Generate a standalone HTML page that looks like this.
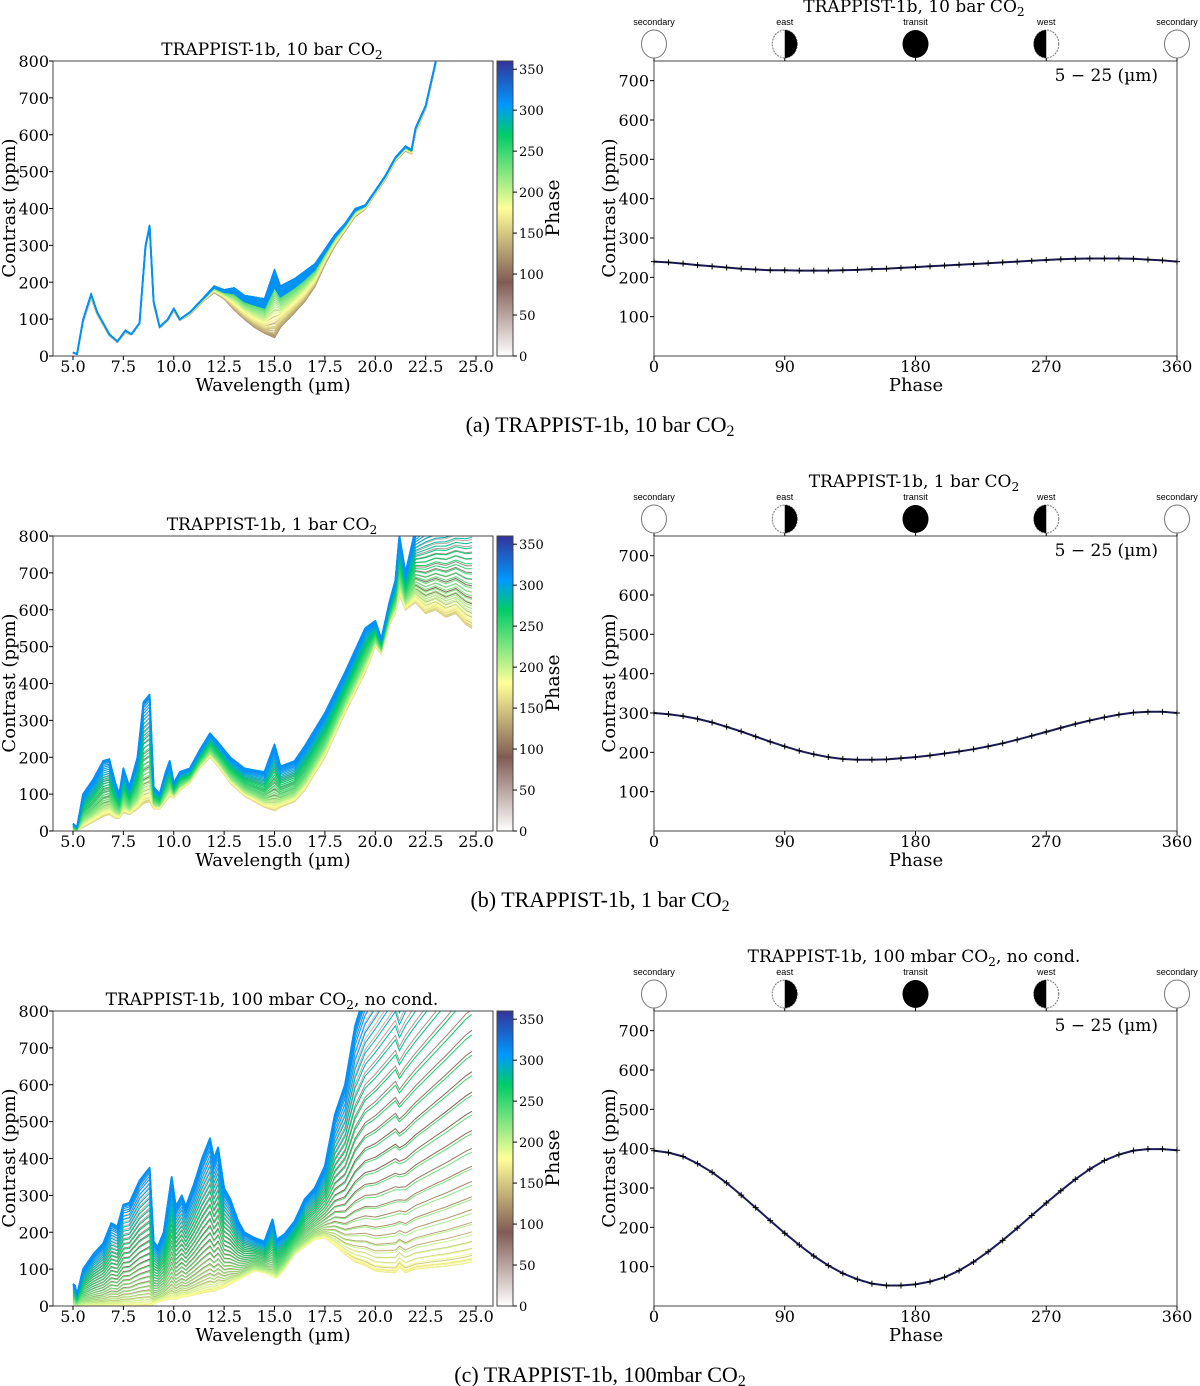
<!DOCTYPE html>
<html><head><meta charset="utf-8">
<style>
html,body{margin:0;padding:0;background:#fff;}
svg{display:block;}
text{font-family:"DejaVu Serif","Liberation Serif",serif;fill:#000;}
.cap{font-family:"Liberation Serif",serif;font-size:22px;}
.ic{font-family:"Liberation Sans",sans-serif;font-size:9px;}
</style></head>
<body>
<svg id="fig" width="1200" height="1386" viewBox="0 0 1200 1386" xmlns="http://www.w3.org/2000/svg">
<defs>
<linearGradient id="cmap" x1="0" y1="1" x2="0" y2="0">
<stop offset="0" stop-color="#ffffff"/>
<stop offset="0.25" stop-color="#805c54"/>
<stop offset="0.5" stop-color="#ffff99"/>
<stop offset="0.75" stop-color="#00cc66"/>
<stop offset="0.85" stop-color="#0099ff"/>
<stop offset="1" stop-color="#333399"/>
</linearGradient>
</defs>
</svg>
<script>
// ---- data ----
const wlA=[5.0,5.2,5.5,5.9,6.2,6.8,7.2,7.6,7.9,8.3,8.6,8.8,9.0,9.3,9.7,10.0,10.3,10.8,11.5,12.0,12.5,13.0,13.5,14.0,14.5,15.0,15.3,16.0,16.5,17.0,17.5,18.0,18.5,19.0,19.5,20.0,20.5,21.0,21.5,21.8,22.0,22.5,23.0];
const topA=[10,5,100,170,120,60,40,70,60,90,300,355,150,80,100,130,100,120,160,190,180,185,165,160,155,235,190,210,230,250,290,330,360,400,410,450,490,540,570,560,620,680,800];
const botA=[8,5,92,155,112,55,37,63,57,86,290,345,140,75,95,122,96,112,150,172,155,125,100,78,62,50,78,118,148,188,248,298,338,378,398,438,478,528,556,548,605,668,790];
const wlB=[5.0,5.2,5.5,6.0,6.5,6.8,7.1,7.3,7.5,7.8,8.2,8.5,8.8,9.0,9.3,9.6,9.8,10.0,10.3,10.8,11.3,11.8,12.2,12.8,13.5,14.0,14.5,15.0,15.3,16.0,16.5,17.5,18.5,19.5,20.0,20.3,20.7,21.0,21.2,21.5,22.0,22.5,23.0,23.5,24.0,24.5,24.8];
const topB=[20,10,100,140,190,195,130,100,170,120,200,350,370,120,100,160,190,130,160,170,220,265,240,200,170,165,160,235,175,190,230,320,430,550,570,520,620,680,800,700,820,850,860,870,880,890,900];
const botB=[0,0,10,25,40,45,35,35,50,45,60,75,80,60,60,80,95,90,110,130,170,200,175,130,95,80,65,55,65,80,110,200,320,430,500,480,560,590,640,600,620,590,600,580,590,560,550];
const wlC=[5.0,5.1,5.2,5.5,6.0,6.5,6.9,7.2,7.5,7.8,8.3,8.8,9.0,9.2,9.5,9.9,10.1,10.4,10.6,11.0,11.4,11.8,12.0,12.2,12.5,12.8,13.2,13.5,14.0,14.5,14.9,15.1,15.5,16.0,16.5,17.0,17.5,18.0,18.5,19.0,19.5,20.0,20.5,21.0,21.2,21.5,22.0,22.5,23.0,23.5,24.0,24.5,24.8];
const topC=[60,55,30,100,140,170,225,215,275,280,340,375,175,160,200,350,270,300,270,330,400,455,400,430,320,290,230,200,185,175,235,180,195,230,290,320,380,520,600,760,850,900,950,1000,950,1000,1050,1100,1150,1200,1250,1300,1320];
const botC=[0,0,0,0,0,0,0,0,0,0,0,0,5,10,15,20,18,25,25,30,35,40,40,45,50,60,70,80,95,90,80,75,100,140,160,180,185,165,140,120,110,95,92,90,105,90,100,103,106,108,112,116,120];
const phases=[0,10,20,30,40,50,60,70,80,90,100,110,120,130,140,150,160,170,180,190,200,210,220,230,240,250,260,270,280,290,300,310,320,330,340,350,360];
const curveA=[240,238,235,231,228,225,222,220,218,218,217,217,217,218,219,221,222,224,226,228,230,232,234,236,238,240,242,244,246,247,248,248,248,247,245,243,240];
const curveB=[300,297,292,285,276,265,253,240,227,215,204,195,188,183,181,181,182,185,188,192,197,202,208,215,223,232,242,252,262,272,281,289,296,301,303,303,300];
const curveC=[395,390,380,362,340,313,282,250,217,185,155,127,103,83,68,57,52,52,55,62,73,90,112,138,167,198,230,262,293,322,348,370,385,395,399,399,396];
const titles=["TRAPPIST-1b, 10 bar CO","TRAPPIST-1b, 1 bar CO","TRAPPIST-1b, 100 mbar CO"];
const captions=["(a) TRAPPIST-1b, 10 bar CO","(b) TRAPPIST-1b, 1 bar CO","(c) TRAPPIST-1b, 100mbar CO"];
const leftYTicks=[0,100,200,300,400,500,600,700,800];
const leftXTicks=[5.0,7.5,10.0,12.5,15.0,17.5,20.0,22.5,25.0];
const rightYTicks=[100,200,300,400,500,600,700];
const rightXTicks=[0,90,180,270,360];
const cbTicks=[0,50,100,150,200,250,300,350];
const iconPhases=[0,90,180,270,360];
const iconLabels=["secondary","east","transit","west","secondary"];

const NS="http://www.w3.org/2000/svg";
const svg=document.getElementById('fig');
function mk(tag,attrs,parent){const e=document.createElementNS(NS,tag);for(const k in attrs)e.setAttribute(k,attrs[k]);(parent||svg).appendChild(e);return e;}
function txt(s,attrs,parent){const e=mk('text',attrs,parent);e.textContent=s;return e;}
function sub(e,s){const t=document.createElementNS(NS,'tspan');t.setAttribute('dy','4');t.setAttribute('font-size','0.72em');t.textContent=s;e.appendChild(t);const b=document.createElementNS(NS,'tspan');b.setAttribute('dy','-4');b.textContent='\u200b';e.appendChild(b);return b;}

const stops=[[0,[255,255,255]],[90,[128,92,84]],[180,[255,255,153]],[270,[0,204,102]],[306,[0,153,255]],[360,[51,51,153]]];
function cmap(p){for(let i=0;i<stops.length-1;i++){const a=stops[i],b=stops[i+1];if(p<=b[0]){const t=(p-a[0])/(b[0]-a[0]);return 'rgb('+a[1].map((v,j)=>Math.round(v+(b[1][j]-v)*t)).join(',')+')';}}return 'rgb(51,51,153)';}

const rows=[[wlA,topA,botA,curveA],[wlB,topB,botB,curveB],[wlC,topC,botC,curveC]];
rows.forEach((r,ri)=>{
  const dy=ri*475;
  const [wl,top,bot,curve]=r;
  const L=53,R=493,T=61+dy,B=356+dy;
  const xL=w=>73+(w-5)*20.15;
  const yL=v=>B-v*(295/800);
  const g=mk('g',{});
  
  
  const cp=mk('clipPath',{id:'clip'+ri},svg);
  mk('rect',{x:L,y:T,width:R-L,height:B-T},cp);
  const lines=mk('g',{'clip-path':'url(#clip'+ri+')'},g);
  const cmin=Math.min(...curve),cmax=Math.max(...curve);
  for(let ph=0;ph<=360;ph+=5){
    const i=Math.min(Math.floor(ph/10),35),t=(ph-phases[i])/10;
    const cv=curve[i]+(curve[i+1]-curve[i])*t;
    const f=(cv-cmin)/(cmax-cmin);
    let d='';
    wl.forEach((w,k)=>{const v=bot[k]+(top[k]-bot[k])*f;d+=(k?'L':'M')+xL(w).toFixed(1)+','+yL(v).toFixed(1);});
    const p=mk('path',{d:d,fill:'none',stroke:cmap(Math.min(ph,310)),'stroke-width':ph>=350?1.8:1,'stroke-linejoin':'round'},lines);
    
    
  }
  mk('rect',{x:L,y:T,width:R-L,height:B-T,fill:'none',stroke:'#444','stroke-width':1},g);
  leftYTicks.forEach(v=>{mk('line',{x1:L-4,x2:L,y1:yL(v),y2:yL(v),stroke:'#000'},g);const e=txt(String(v),{x:L-4,y:yL(v)+6,'text-anchor':'end','font-size':16},g);});
  leftXTicks.forEach(v=>{mk('line',{x1:xL(v),x2:xL(v),y1:B,y2:B+4,stroke:'#000'},g);const e=txt(v.toFixed(1),{x:xL(v),y:B+16,'text-anchor':'middle','font-size':16},g);});
  const xt=txt('Wavelength (µm)',{x:273,y:B+35,'text-anchor':'middle','font-size':18},g);
  
  const yt=txt('Contrast (ppm)',{x:0,y:0,'text-anchor':'middle','font-size':18,transform:'translate(15,'+(T+147)+') rotate(-90)'},g);
  
  const lt=txt(titles[ri],{x:272,y:T-6,'text-anchor':'middle','font-size':17},g);const tail=sub(lt,'2');
  if(ri==2)tail.textContent=', no cond.';
  
  const cb=mk('rect',{x:497,y:T,width:16,height:B-T,fill:'url(#cmap)',stroke:'#444','stroke-width':1},g);
  
  cbTicks.forEach(v=>{const yy=B-v*(B-T)/360;mk('line',{x1:513,x2:517,y1:yy,y2:yy,stroke:'#000'},g);const e=txt(String(v),{x:519,y:yy+5,'font-size':13},g);});
  const pl=txt('Phase',{x:0,y:0,'text-anchor':'middle','font-size':19,transform:'translate(559,'+(T+147)+') rotate(-90)'},g);
  

  const RL=654,RR=1177;
  const xR=p=>RL+p*(RR-RL)/360;
  const yR=v=>B-v*(295/750);
  const gr=mk('g',{});
  
  
  mk('rect',{x:RL,y:T,width:RR-RL,height:B-T,fill:'none',stroke:'#444','stroke-width':1},gr);
  rightYTicks.forEach(v=>{mk('line',{x1:RL-4,x2:RL,y1:yR(v),y2:yR(v),stroke:'#000'},gr);const e=txt(String(v),{x:RL-5,y:yR(v)+6,'text-anchor':'end','font-size':16},gr);});
  rightXTicks.forEach(v=>{mk('line',{x1:xR(v),x2:xR(v),y1:B,y2:B+4,stroke:'#000'},gr);mk('line',{x1:xR(v),x2:xR(v),y1:T,y2:T-3,stroke:'#000'},gr);const e=txt(String(v),{x:xR(v),y:B+16,'text-anchor':'middle','font-size':16},gr);});
  const px=txt('Phase',{x:916,y:B+35,'text-anchor':'middle','font-size':18},gr);
  
  const py=txt('Contrast (ppm)',{x:0,y:0,'text-anchor':'middle','font-size':18,transform:'translate(615,'+(T+147)+') rotate(-90)'},gr);
  
  const leg=txt('5 − 25 (µm)',{x:1158,y:T+20,'text-anchor':'end','font-size':17},gr);
  
  const rt=txt(titles[ri],{x:914,y:T-49,'text-anchor':'middle','font-size':17},gr);const rtail=sub(rt,'2');
  if(ri==2)rtail.textContent=', no cond.';
  
  let d='';
  phases.forEach((p,k)=>{d+=(k?'L':'M')+xR(p).toFixed(1)+','+yR(curve[k]).toFixed(1);});
  const cl=mk('path',{d:d,fill:'none',stroke:'#1a1a55','stroke-width':2},gr);
  
  phases.forEach((p,k)=>{const x=xR(p),y=yR(curve[k]);const m=mk('path',{d:'M'+(x-3)+','+y+'h6M'+x+','+(y-3)+'v6',stroke:'#000','stroke-width':1},gr);});
  iconPhases.forEach((p,k)=>{
    const cx=xR(p),cy=T-17;
    const ig=mk('g',{},gr);
    
    
    txt(iconLabels[k],{x:cx,y:cy-19,'text-anchor':'middle',class:'ic'},ig);
    if(k==2){mk('ellipse',{cx:cx,cy:cy,rx:13,ry:14,fill:'#000'},ig);}
    else{
      mk('ellipse',{cx:cx,cy:cy,rx:12.5,ry:14,fill:'#fff',stroke:'#777','stroke-width':1,'stroke-dasharray':k%4==0?'':'2,1'},ig);
      if(k==1)mk('path',{d:'M'+cx+','+(cy-14)+'A12.5,14 0 0 1 '+cx+','+(cy+14)+'Z',fill:'#000'},ig);
      if(k==3)mk('path',{d:'M'+cx+','+(cy-14)+'A12.5,14 0 0 0 '+cx+','+(cy+14)+'Z',fill:'#000'},ig);
    }
  });
  const cap=txt(captions[ri],{x:600,y:432+dy,'text-anchor':'middle',class:'cap'});sub(cap,'2');
  
});
</script>
</body></html>
